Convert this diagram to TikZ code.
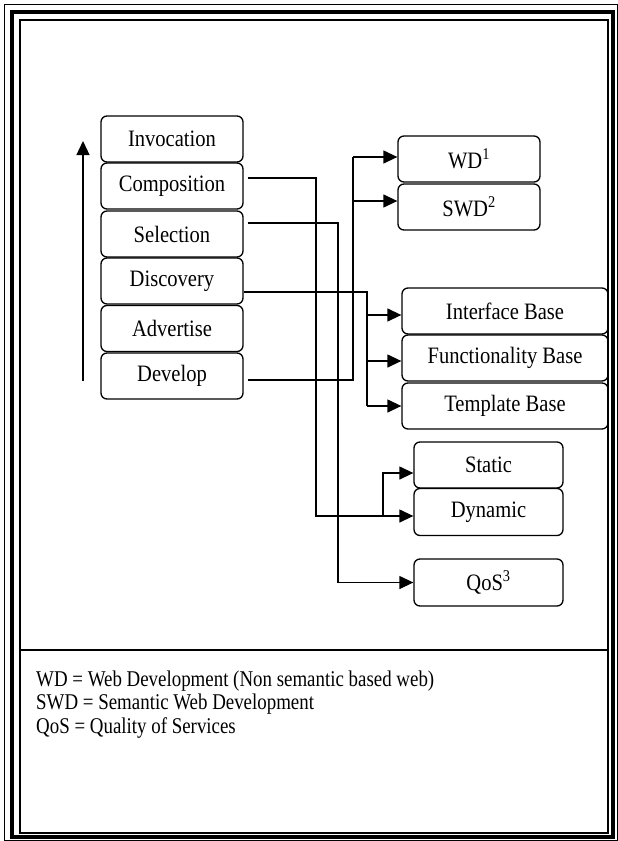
\documentclass[tikz,border=0pt]{standalone}
\usepackage{fontspec}
\usepackage{graphicx}
\setmainfont{Liberation Serif}
\usetikzlibrary{arrows.meta}
\newcommand{\boxtxt}[1]{\scalebox{0.875}[1]{#1}}
\newcommand{\legtxt}[1]{\scalebox{0.84}[1]{#1}}
\tikzset{
  txt/.style={font=\fontsize{23.5}{27}\selectfont},
  box/.style={draw, rounded corners=6pt, line width=1.3pt, minimum height=46pt, inner sep=0pt, txt},
  lbox/.style={box, minimum width=142pt},
  conn/.style={line width=1.3pt},
  arr/.style={conn, -{Triangle[length=14pt,width=13pt]}},
  legend/.style={font=\fontsize{22.5}{26}\selectfont, anchor=base west, inner sep=0pt}
}
\begin{document}
\begin{tikzpicture}[x=1pt,y=-1pt]
\useasboundingbox (0,0) rectangle (618,841);
% page border
\draw[line width=1.6pt] (4.5,4.5) rectangle (617.5,840.5);
\draw[line width=3.6pt] (12,12) rectangle (613,837);
\draw[line width=2pt] (19.5,19.5) rectangle (608,833);
\draw[line width=2pt] (19.5,650) -- (608,650);

% left column
\node[lbox] (inv)  at (172,139)   {\boxtxt{Invocation}};
\node[lbox] (comp) at (172,186)   {\boxtxt{Composition}};
\node[lbox] (sel)  at (172,234)   {\boxtxt{Selection}};
\node[lbox] (disc) at (172,281)   {\boxtxt{Discovery}};
\node[lbox] (adv)  at (172,328.5) {\boxtxt{Advertise}};
\node[lbox] (dev)  at (172,376)   {\boxtxt{Develop}};

% right column
\node[box, minimum width=142pt] (wd)  at (469,159) {\boxtxt{WD\textsuperscript{1}}};
\node[box, minimum width=142pt] (swd) at (469,207) {\boxtxt{SWD\textsuperscript{2}}};
\node[box, minimum width=206pt] (intf) at (505,311) {\boxtxt{Interface Base}};
\node[box, minimum width=206pt] (func) at (505,358) {\boxtxt{Functionality Base}};
\node[box, minimum width=206pt] (tmpl) at (505,406) {\boxtxt{Template Base}};
\node[box, minimum width=149pt] (stat) at (488.5,465) {\boxtxt{Static}};
\node[box, minimum width=149pt, minimum height=47pt] (dyn) at (488.5,512) {\boxtxt{Dynamic}};
\node[box, minimum width=149pt, minimum height=47pt] (qos) at (488.5,582.5) {\boxtxt{QoS\textsuperscript{3}}};

% up arrow
\coordinate (ua) at (83,381);
\coordinate (ub) at (83,141);
\draw[arr] (ua) -- (ub);

% Composition -> Static / Dynamic
\coordinate (c1) at (316,516);
\coordinate (j1) at (383,516);
\draw[conn] ([shift={(4pt,8pt)}]comp.east) -| (c1) -- (j1);
\draw[arr] (j1) -- (dyn.west |- j1);
\draw[arr] (j1) |- ([yshift=-8pt]stat.west);

% Selection -> QoS
\coordinate (s1) at (338,582.5);
\draw[arr] ([shift={(4pt,11pt)}]sel.east) -| (s1) -- (qos.west);

% Discovery -> bases
\coordinate (d1) at (367,315);
\coordinate (d2) at (367,361);
\coordinate (d3) at (367,406);
\draw[conn] ([yshift=-11pt]disc.east) -| (d3);
\draw[arr] (d1) -- (intf.west |- d1);
\draw[arr] (d2) -- (func.west |- d2);
\draw[arr] (d3) -- (tmpl.west);

% Develop -> WD / SWD
\coordinate (e1) at (353,157);
\coordinate (e2) at (353,201);
\draw[conn] ([shift={(4pt,-4pt)}]dev.east) -| (e1);
\draw[arr] (e1) -- (wd.west |- e1);
\draw[arr] (e2) -- (swd.west |- e2);

% legend
\node[legend] (l1) at (36,686)   {\legtxt{WD = Web Development (Non semantic based web)}};
\node[legend] (l2) at (36,709.5) {\legtxt{SWD = Semantic Web Development}};
\node[legend] (l3) at (36,733)   {\legtxt{QoS = Quality of Services}};
\end{tikzpicture}
\end{document}
